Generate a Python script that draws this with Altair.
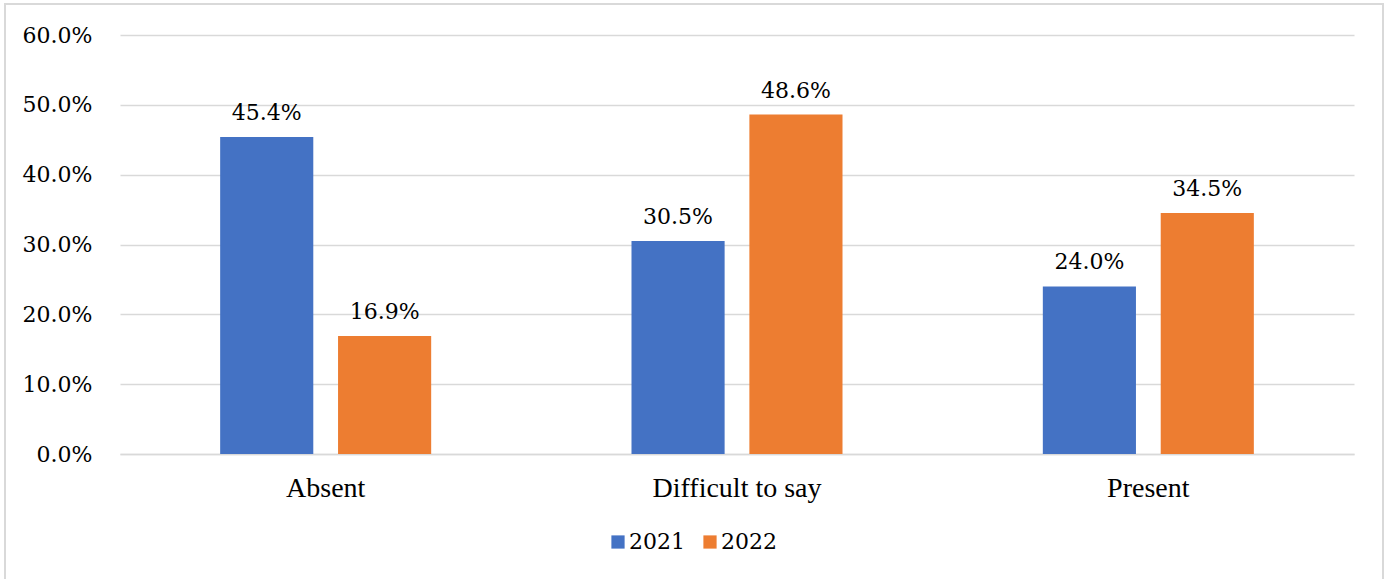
import altair as alt
import pandas as pd

categories = ["Absent", "Difficult to say", "Present"]
years = ["2021", "2022"]
values_2021 = [45.4, 30.5, 24.0]
values_2022 = [16.9, 48.6, 34.5]
colors = ["#4472C4", "#ED7D31"]

rows = []
for c, a, b in zip(categories, values_2021, values_2022):
    rows.append({"category": c, "year": "2021", "value": a / 100})
    rows.append({"category": c, "year": "2022", "value": b / 100})
df = pd.DataFrame(rows)

FONT = "Liberation Serif"
NUMFONT = "DejaVu Serif"
NFS = 22

x = alt.X("category:N", sort=categories, title=None,
          scale=alt.Scale(paddingInner=0.487, paddingOuter=0.2435),
          axis=alt.Axis(labelAngle=0, labelFont=FONT, labelFontSize=28,
                        labelColor="#000000", labelPadding=20, ticks=False,
                        domainColor="#d9d9d9", domainWidth=1.5))
xo = alt.XOffset("year:N", sort=years,
                 scale=alt.Scale(paddingInner=0.21, paddingOuter=0))
y = alt.Y("value:Q", title=None,
          scale=alt.Scale(domain=[0, 0.6], nice=False),
          axis=alt.Axis(format=".1%", values=[0, 0.1, 0.2, 0.3, 0.4, 0.5, 0.6],
                        labelFont=NUMFONT, labelFontSize=NFS, labelColor="#000000",
                        labelPadding=28, ticks=False, domain=False,
                        gridColor="#d9d9d9", gridWidth=1.5))

bars = alt.Chart(df).mark_bar().encode(
    x=x, xOffset=xo, y=y,
    color=alt.Color("year:N", sort=years,
                    scale=alt.Scale(domain=years, range=colors),
                    legend=alt.Legend(title=None, orient="none", direction="horizontal",
                                      legendX=487, legendY=496,
                                      symbolType="square", symbolSize=175,
                                      symbolStrokeWidth=0,
                                      labelFont=NUMFONT, labelFontSize=NFS,
                                      labelColor="#000000", columnPadding=14,
                                      symbolOffset=0, labelOffset=0))
)

labels = alt.Chart(df).mark_text(font=NUMFONT, fontSize=NFS, color="#000000",
                                 baseline="alphabetic", dy=-17).encode(
    x=x, xOffset=xo, y=y,
    text=alt.Text("value:Q", format=".1%")
)

border = alt.Chart(df).mark_rect(fill=None, stroke="#d9d9d9", strokeWidth=2,
                                 clip=False).encode(
    x=alt.value(-115), x2=alt.value(1263),
    y=alt.value(-31), y2=alt.value(548)
)

chart = alt.layer(bars, labels, border).properties(
    width=1234, height=419,
    padding={"left": 120, "top": 35, "right": 39, "bottom": 125},
    autosize=alt.AutoSizeParams(type="none"),
    background="white"
).configure_view(stroke=None)

chart.save("out.html", embed_options={"renderer": "svg", "actions": False})
